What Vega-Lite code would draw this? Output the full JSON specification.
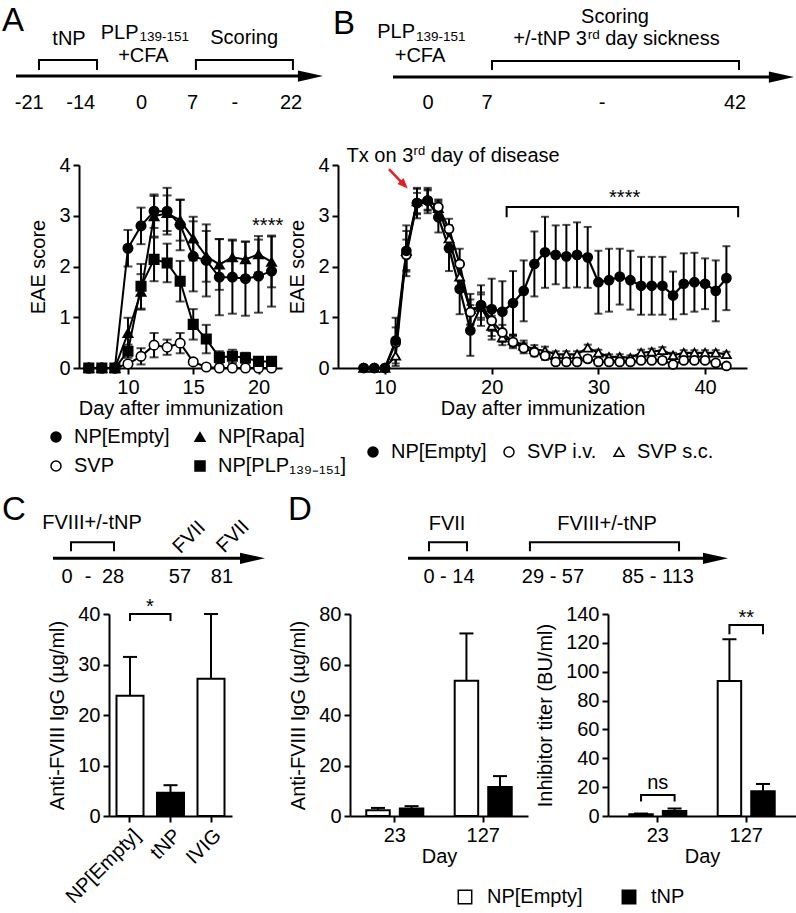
{
"$schema":"https://vega.github.io/schema/vega-lite/v6.json",
"background":"white",
"padding":{"left":2,"top":4,"right":0,"bottom":0},
"config":{
 "font":"Liberation Sans",
 "view":{"stroke":null},
 "axis":{"domainColor":"black","domainWidth":2,"tickColor":"black","tickWidth":2,"tickSize":6,"labelColor":"black","labelFontSize":20,"labelFont":"Liberation Sans","labelPadding":3,"labelOverlap":false,"titleColor":"black","titleFontSize":20,"titleFont":"Liberation Sans","titleFontWeight":"normal","grid":false},
 "axisX":{"titlePadding":1},
 "axisY":{"titlePadding":10},
 "legend":{"labelFontSize":20,"labelColor":"black","labelFont":"Liberation Sans","padding":0},
 "text":{"color":"black","font":"Liberation Sans"}
},
"datasets":{
 "a":[
  {"s":"SVP","d":7,"v":0,"e":0},{"s":"SVP","d":8,"v":0,"e":0},{"s":"SVP","d":9,"v":0,"e":0},{"s":"SVP","d":10,"v":0.08,"e":0.05},{"s":"SVP","d":11,"v":0.23,"e":0.16},{"s":"SVP","d":12,"v":0.45,"e":0.24},{"s":"SVP","d":13,"v":0.41,"e":0.15},{"s":"SVP","d":14,"v":0.49,"e":0.2},{"s":"SVP","d":15,"v":0.12,"e":0.05},{"s":"SVP","d":16,"v":0.02,"e":0},{"s":"SVP","d":17,"v":0,"e":0},{"s":"SVP","d":18,"v":0,"e":0},{"s":"SVP","d":19,"v":0,"e":0},{"s":"SVP","d":20,"v":0,"e":0},{"s":"SVP","d":21,"v":0,"e":0},
  {"s":"NP[PLP₁₃₉₋₁₅₁]","d":7,"v":0,"e":0},{"s":"NP[PLP₁₃₉₋₁₅₁]","d":8,"v":0,"e":0},{"s":"NP[PLP₁₃₉₋₁₅₁]","d":9,"v":0,"e":0},{"s":"NP[PLP₁₃₉₋₁₅₁]","d":10,"v":0.33,"e":0.13},{"s":"NP[PLP₁₃₉₋₁₅₁]","d":11,"v":1.61,"e":0.44},{"s":"NP[PLP₁₃₉₋₁₅₁]","d":12,"v":2.14,"e":0.43},{"s":"NP[PLP₁₃₉₋₁₅₁]","d":13,"v":2.07,"e":0.38},{"s":"NP[PLP₁₃₉₋₁₅₁]","d":14,"v":1.71,"e":0.4},{"s":"NP[PLP₁₃₉₋₁₅₁]","d":15,"v":0.86,"e":0.3},{"s":"NP[PLP₁₃₉₋₁₅₁]","d":16,"v":0.57,"e":0.28},{"s":"NP[PLP₁₃₉₋₁₅₁]","d":17,"v":0.21,"e":0.12},{"s":"NP[PLP₁₃₉₋₁₅₁]","d":18,"v":0.23,"e":0.13},{"s":"NP[PLP₁₃₉₋₁₅₁]","d":19,"v":0.2,"e":0.1},{"s":"NP[PLP₁₃₉₋₁₅₁]","d":20,"v":0.13,"e":0.05},{"s":"NP[PLP₁₃₉₋₁₅₁]","d":21,"v":0.13,"e":0.05},
  {"s":"NP[Rapa]","d":7,"v":0,"e":0},{"s":"NP[Rapa]","d":8,"v":0,"e":0},{"s":"NP[Rapa]","d":9,"v":0,"e":0},{"s":"NP[Rapa]","d":10,"v":0.69,"e":0.3},{"s":"NP[Rapa]","d":11,"v":1.5,"e":0.35},{"s":"NP[Rapa]","d":12,"v":2.99,"e":0.4},{"s":"NP[Rapa]","d":13,"v":3.05,"e":0.35},{"s":"NP[Rapa]","d":14,"v":2.91,"e":0.4},{"s":"NP[Rapa]","d":15,"v":2.55,"e":0.43},{"s":"NP[Rapa]","d":16,"v":2.2,"e":0.5},{"s":"NP[Rapa]","d":17,"v":2.04,"e":0.5},{"s":"NP[Rapa]","d":18,"v":2.18,"e":0.35},{"s":"NP[Rapa]","d":19,"v":2.14,"e":0.35},{"s":"NP[Rapa]","d":20,"v":2.24,"e":0.36},{"s":"NP[Rapa]","d":21,"v":2.09,"e":0.5},
  {"s":"NP[Empty]","d":7,"v":0,"e":0},{"s":"NP[Empty]","d":8,"v":0,"e":0},{"s":"NP[Empty]","d":9,"v":0,"e":0},{"s":"NP[Empty]","d":10,"v":2.36,"e":0.36},{"s":"NP[Empty]","d":11,"v":2.8,"e":0.36},{"s":"NP[Empty]","d":12,"v":3.09,"e":0.33},{"s":"NP[Empty]","d":13,"v":3.09,"e":0.46},{"s":"NP[Empty]","d":14,"v":2.82,"e":0.5},{"s":"NP[Empty]","d":15,"v":2.2,"e":0.69},{"s":"NP[Empty]","d":16,"v":2.12,"e":0.71},{"s":"NP[Empty]","d":17,"v":1.79,"e":0.75},{"s":"NP[Empty]","d":18,"v":1.79,"e":0.72},{"s":"NP[Empty]","d":19,"v":1.76,"e":0.73},{"s":"NP[Empty]","d":20,"v":1.81,"e":0.72},{"s":"NP[Empty]","d":21,"v":1.91,"e":0.7}
 ],
 "b":[
  {"s":"SVP s.c.","d":8,"v":0,"e":0},{"s":"SVP s.c.","d":9,"v":0,"e":0},{"s":"SVP s.c.","d":10,"v":0,"e":0},{"s":"SVP s.c.","d":11,"v":0.24,"e":0.2},{"s":"SVP s.c.","d":12,"v":2.3,"e":0.4},{"s":"SVP s.c.","d":13,"v":3.28,"e":0.25},{"s":"SVP s.c.","d":14,"v":3.32,"e":0.2},{"s":"SVP s.c.","d":15,"v":3.15,"e":0.15},{"s":"SVP s.c.","d":16,"v":2.55,"e":0.25},{"s":"SVP s.c.","d":17,"v":1.8,"e":0.3},{"s":"SVP s.c.","d":18,"v":1.16,"e":0.3},{"s":"SVP s.c.","d":19,"v":1.2,"e":0.25},{"s":"SVP s.c.","d":20,"v":0.83,"e":0.2},{"s":"SVP s.c.","d":21,"v":0.6,"e":0.15},{"s":"SVP s.c.","d":22,"v":0.54,"e":0.12},{"s":"SVP s.c.","d":23,"v":0.44,"e":0.1},{"s":"SVP s.c.","d":24,"v":0.37,"e":0.08},{"s":"SVP s.c.","d":25,"v":0.34,"e":0.08},{"s":"SVP s.c.","d":26,"v":0.27,"e":0.06},{"s":"SVP s.c.","d":27,"v":0.27,"e":0.06},{"s":"SVP s.c.","d":28,"v":0.27,"e":0.06},{"s":"SVP s.c.","d":29,"v":0.4,"e":0.06},{"s":"SVP s.c.","d":30,"v":0.3,"e":0.06},{"s":"SVP s.c.","d":31,"v":0.22,"e":0.05},{"s":"SVP s.c.","d":32,"v":0.22,"e":0.05},{"s":"SVP s.c.","d":33,"v":0.2,"e":0.05},{"s":"SVP s.c.","d":34,"v":0.3,"e":0.06},{"s":"SVP s.c.","d":35,"v":0.32,"e":0.06},{"s":"SVP s.c.","d":36,"v":0.35,"e":0.06},{"s":"SVP s.c.","d":37,"v":0.25,"e":0.05},{"s":"SVP s.c.","d":38,"v":0.3,"e":0.05},{"s":"SVP s.c.","d":39,"v":0.3,"e":0.05},{"s":"SVP s.c.","d":40,"v":0.3,"e":0.05},{"s":"SVP s.c.","d":41,"v":0.3,"e":0.05},{"s":"SVP s.c.","d":42,"v":0.27,"e":0.05},
  {"s":"SVP i.v.","d":8,"v":0,"e":0},{"s":"SVP i.v.","d":9,"v":0,"e":0},{"s":"SVP i.v.","d":10,"v":0,"e":0},{"s":"SVP i.v.","d":11,"v":0.5,"e":0.3},{"s":"SVP i.v.","d":12,"v":2.23,"e":0.3},{"s":"SVP i.v.","d":13,"v":3.25,"e":0.2},{"s":"SVP i.v.","d":14,"v":3.3,"e":0.2},{"s":"SVP i.v.","d":15,"v":3.17,"e":0.15},{"s":"SVP i.v.","d":16,"v":2.74,"e":0.2},{"s":"SVP i.v.","d":17,"v":2.05,"e":0.3},{"s":"SVP i.v.","d":18,"v":1.1,"e":0.25},{"s":"SVP i.v.","d":19,"v":1.24,"e":0.25},{"s":"SVP i.v.","d":20,"v":0.93,"e":0.2},{"s":"SVP i.v.","d":21,"v":0.7,"e":0.15},{"s":"SVP i.v.","d":22,"v":0.51,"e":0.12},{"s":"SVP i.v.","d":23,"v":0.39,"e":0.1},{"s":"SVP i.v.","d":24,"v":0.31,"e":0.08},{"s":"SVP i.v.","d":25,"v":0.24,"e":0.08},{"s":"SVP i.v.","d":26,"v":0.12,"e":0.06},{"s":"SVP i.v.","d":27,"v":0.12,"e":0.06},{"s":"SVP i.v.","d":28,"v":0.12,"e":0.06},{"s":"SVP i.v.","d":29,"v":0.18,"e":0.06},{"s":"SVP i.v.","d":30,"v":0.12,"e":0.05},{"s":"SVP i.v.","d":31,"v":0.12,"e":0.05},{"s":"SVP i.v.","d":32,"v":0.12,"e":0.05},{"s":"SVP i.v.","d":33,"v":0.12,"e":0.05},{"s":"SVP i.v.","d":34,"v":0.15,"e":0.05},{"s":"SVP i.v.","d":35,"v":0.15,"e":0.05},{"s":"SVP i.v.","d":36,"v":0.15,"e":0.05},{"s":"SVP i.v.","d":37,"v":0.07,"e":0.04},{"s":"SVP i.v.","d":38,"v":0.15,"e":0.05},{"s":"SVP i.v.","d":39,"v":0.15,"e":0.05},{"s":"SVP i.v.","d":40,"v":0.15,"e":0.05},{"s":"SVP i.v.","d":41,"v":0.1,"e":0.05},{"s":"SVP i.v.","d":42,"v":0.04,"e":0.03},
  {"s":"NP[Empty]","d":8,"v":0,"e":0},{"s":"NP[Empty]","d":9,"v":0,"e":0},{"s":"NP[Empty]","d":10,"v":0,"e":0},{"s":"NP[Empty]","d":11,"v":0.54,"e":0.45},{"s":"NP[Empty]","d":12,"v":2.31,"e":0.5},{"s":"NP[Empty]","d":13,"v":3.25,"e":0.3},{"s":"NP[Empty]","d":14,"v":3.3,"e":0.25},{"s":"NP[Empty]","d":15,"v":2.97,"e":0.3},{"s":"NP[Empty]","d":16,"v":2.36,"e":0.45},{"s":"NP[Empty]","d":17,"v":1.56,"e":0.5},{"s":"NP[Empty]","d":18,"v":0.74,"e":0.5},{"s":"NP[Empty]","d":19,"v":1.23,"e":0.4},{"s":"NP[Empty]","d":20,"v":1.16,"e":0.6},{"s":"NP[Empty]","d":21,"v":1.11,"e":0.6},{"s":"NP[Empty]","d":22,"v":1.28,"e":0.63},{"s":"NP[Empty]","d":23,"v":1.52,"e":0.6},{"s":"NP[Empty]","d":24,"v":2.05,"e":0.64},{"s":"NP[Empty]","d":25,"v":2.28,"e":0.7},{"s":"NP[Empty]","d":26,"v":2.23,"e":0.58},{"s":"NP[Empty]","d":27,"v":2.2,"e":0.62},{"s":"NP[Empty]","d":28,"v":2.23,"e":0.64},{"s":"NP[Empty]","d":29,"v":2.18,"e":0.6},{"s":"NP[Empty]","d":30,"v":1.69,"e":0.62},{"s":"NP[Empty]","d":31,"v":1.73,"e":0.62},{"s":"NP[Empty]","d":32,"v":1.8,"e":0.55},{"s":"NP[Empty]","d":33,"v":1.73,"e":0.58},{"s":"NP[Empty]","d":34,"v":1.62,"e":0.57},{"s":"NP[Empty]","d":35,"v":1.62,"e":0.57},{"s":"NP[Empty]","d":36,"v":1.62,"e":0.57},{"s":"NP[Empty]","d":37,"v":1.43,"e":0.47},{"s":"NP[Empty]","d":38,"v":1.66,"e":0.6},{"s":"NP[Empty]","d":39,"v":1.69,"e":0.58},{"s":"NP[Empty]","d":40,"v":1.66,"e":0.5},{"s":"NP[Empty]","d":41,"v":1.52,"e":0.6},{"s":"NP[Empty]","d":42,"v":1.77,"e":0.63}
 ],
 "c":[{"c":"NP[Empty]","v":23.8,"hi":31.5},{"c":"tNP","v":4.6,"hi":6.1},{"c":"IVIG","v":27.2,"hi":40}],
 "d1":[{"day":"23","g":"NP[Empty]","v":2.3,"hi":3.2},{"day":"23","g":"tNP","v":3.0,"hi":3.9},{"day":"127","g":"NP[Empty]","v":53.6,"hi":72.3},{"day":"127","g":"tNP","v":11.5,"hi":15.8}],
 "d2":[{"day":"23","g":"NP[Empty]","v":1.2,"hi":1.7},{"day":"23","g":"tNP","v":3.5,"hi":5.2},{"day":"127","g":"NP[Empty]","v":93.5,"hi":122.5},{"day":"127","g":"tNP","v":17.2,"hi":22.2}]
},
"columns":1,
"align":"none",
"bounds":"full",
"spacing":18,
"resolve":{"scale":{"fill":"independent","shape":"independent","stroke":"independent"},"legend":{"fill":"independent","shape":"independent","stroke":"independent"}},
"concat":[
 {"hconcat":[
  {"width":203,"height":203,
   "resolve":{"scale":{"x":"independent","y":"independent"}},
   "layer":[
    {"data":{"name":"a"},
     "layer":[
      {"mark":{"type":"line","color":"black","strokeWidth":2},
       "encoding":{"x":{"field":"d","type":"quantitative","title":"Day after immunization","scale":{"domain":[6.25,21.8],"nice":false,"zero":false},"axis":{"values":[10,15,20]}},
                   "y":{"field":"v","type":"quantitative","title":"EAE score","scale":{"domain":[0,4],"nice":false,"zero":false},"axis":{"values":[0,1,2,3,4],"format":"d"}},
                   "detail":{"field":"s","type":"nominal"}}},
      {"mark":{"type":"errorbar","ticks":true,"size":9,"thickness":2,"color":"black"},
       "encoding":{"x":{"field":"d","type":"quantitative","title":"Day after immunization","scale":{"domain":[6.25,21.8],"nice":false,"zero":false}},
                   "y":{"field":"v","type":"quantitative","title":"EAE score","scale":{"domain":[0,4],"nice":false,"zero":false}},
                   "yError":{"field":"e"}}},
      {"mark":{"type":"point","filled":true,"size":90,"strokeWidth":1.6,"opacity":1},
       "encoding":{"x":{"field":"d","type":"quantitative","title":"Day after immunization","scale":{"domain":[6.25,21.8],"nice":false,"zero":false}},
                   "y":{"field":"v","type":"quantitative","title":"EAE score","scale":{"domain":[0,4],"nice":false,"zero":false}},
                   "shape":{"field":"s","type":"nominal","scale":{"domain":["NP[Empty]","SVP","NP[Rapa]","NP[PLP₁₃₉₋₁₅₁]"],"range":["circle","circle","triangle-up","square"]},
                            "legend":{"orient":"none","legendX":-33,"legendY":262,"title":null,"columns":2,"symbolSize":100,"symbolStrokeWidth":1.5,"labelFontSize":20,"labelOffset":8,"columnPadding":20,"rowPadding":9}},
                   "fill":{"field":"s","type":"nominal","scale":{"domain":["NP[Empty]","SVP","NP[Rapa]","NP[PLP₁₃₉₋₁₅₁]"],"range":["black","white","black","black"]},
                            "legend":{"orient":"none","legendX":-33,"legendY":262,"title":null,"columns":2,"symbolSize":100,"symbolStrokeWidth":1.5,"labelFontSize":20,"labelOffset":8,"columnPadding":20,"rowPadding":9}},
                   "stroke":{"field":"s","type":"nominal","scale":{"domain":["NP[Empty]","SVP","NP[Rapa]","NP[PLP₁₃₉₋₁₅₁]"],"range":["black","black","black","black"]},
                            "legend":{"orient":"none","legendX":-33,"legendY":262,"title":null,"columns":2,"symbolSize":100,"symbolStrokeWidth":1.5,"labelFontSize":20,"labelOffset":8,"columnPadding":20,"rowPadding":9}}}},
      {"data":{"values":[{"d":20.7,"v":2.79,"txt":"****"}]},
       "mark":{"type":"text","fontSize":20,"baseline":"middle","align":"center","color":"black"},
       "encoding":{"x":{"field":"d","type":"quantitative","title":"Day after immunization","scale":{"domain":[6.25,21.8],"nice":false,"zero":false}},
                   "y":{"field":"v","type":"quantitative","title":"EAE score","scale":{"domain":[0,4],"nice":false,"zero":false}},
                   "text":{"field":"txt"}}}
     ]},
    {"layer":[
      {"data":{"values":[{"t":0,"t2":95,"l":0}]},"mark":{"type":"rule","strokeWidth":3,"color":"black"},
       "encoding":{"x":{"field":"t","type":"quantitative","scale":{"domain":[20.52,86.64],"nice":false,"zero":false},"axis":null},"x2":{"field":"t2"},
                   "y":{"field":"l","type":"quantitative","scale":{"domain":[-10.815,-3.296],"nice":false,"zero":false},"axis":null}}},
      {"data":{"values":[{"t":95.9,"l":0}]},"mark":{"type":"point","shape":"M-1,-0.45L1,0L-1,0.45Z","size":625,"filled":true,"color":"black","opacity":1,"strokeWidth":0},
       "encoding":{"x":{"field":"t","type":"quantitative","scale":{"domain":[20.52,86.64],"nice":false,"zero":false},"axis":null},
                   "y":{"field":"l","type":"quantitative","scale":{"domain":[-10.815,-3.296],"nice":false,"zero":false},"axis":null}}},
      {"data":{"values":[{"b":1,"o":1,"t":7.49,"l":0.22},{"b":1,"o":2,"t":7.49,"l":0.59},{"b":1,"o":3,"t":26.38,"l":0.59},{"b":1,"o":4,"t":26.38,"l":0.22},{"b":2,"o":1,"t":58.6,"l":0.22},{"b":2,"o":2,"t":58.6,"l":0.59},{"b":2,"o":3,"t":90.2,"l":0.59},{"b":2,"o":4,"t":90.2,"l":0.22}]},
       "mark":{"type":"line","strokeWidth":2,"color":"black"},
       "encoding":{"x":{"field":"t","type":"quantitative","scale":{"domain":[20.52,86.64],"nice":false,"zero":false},"axis":null},
                   "y":{"field":"l","type":"quantitative","scale":{"domain":[-10.815,-3.296],"nice":false,"zero":false},"axis":null},
                   "detail":{"field":"b","type":"nominal"},"order":{"field":"o","type":"quantitative"}}},
      {"data":{"values":[{"txt":"tNP","t":17.26,"l":1.37},{"txt":"+CFA","t":41.5,"l":0.74},{"txt":"Scoring","t":74.3,"l":1.41},{"txt":"-21","t":4.3,"l":-1.0},{"txt":"-14","t":21.1,"l":-1.0},{"txt":"0","t":40.9,"l":-1.0},{"txt":"7","t":57.5,"l":-1.0},{"txt":"-","t":71.3,"l":-1.0},{"txt":"22","t":89.6,"l":-1.0}]},
       "mark":{"type":"text","fontSize":20,"align":"center","baseline":"middle","color":"black"},
       "encoding":{"x":{"field":"t","type":"quantitative","scale":{"domain":[20.52,86.64],"nice":false,"zero":false},"axis":null},
                   "y":{"field":"l","type":"quantitative","scale":{"domain":[-10.815,-3.296],"nice":false,"zero":false},"axis":null},
                   "text":{"field":"txt"}}},
      {"data":{"values":[{"txt":"PLP","t":39.9,"l":1.61}]},
       "mark":{"type":"text","fontSize":20,"align":"right","baseline":"middle","color":"black"},
       "encoding":{"x":{"field":"t","type":"quantitative","scale":{"domain":[20.52,86.64],"nice":false,"zero":false},"axis":null},
                   "y":{"field":"l","type":"quantitative","scale":{"domain":[-10.815,-3.296],"nice":false,"zero":false},"axis":null},
                   "text":{"field":"txt"}}},
      {"data":{"values":[{"txt":"139-151","t":40.2,"l":1.43}]},
       "mark":{"type":"text","fontSize":13.5,"align":"left","baseline":"middle","color":"black"},
       "encoding":{"x":{"field":"t","type":"quantitative","scale":{"domain":[20.52,86.64],"nice":false,"zero":false},"axis":null},
                   "y":{"field":"l","type":"quantitative","scale":{"domain":[-10.815,-3.296],"nice":false,"zero":false},"axis":null},
                   "text":{"field":"txt"}}},
      {"data":{"values":[{"txt":"A","t":-4.56,"l":2.04}]},
       "mark":{"type":"text","fontSize":33,"align":"left","baseline":"middle","color":"black"},
       "encoding":{"x":{"field":"t","type":"quantitative","scale":{"domain":[20.52,86.64],"nice":false,"zero":false},"axis":null},
                   "y":{"field":"l","type":"quantitative","scale":{"domain":[-10.815,-3.296],"nice":false,"zero":false},"axis":null},
                   "text":{"field":"txt"}}}
    ]}
   ]},
  {"width":409,"height":203,
   "resolve":{"scale":{"x":"independent","y":"independent"}},
   "layer":[
    {"data":{"name":"b"},
     "layer":[
      {"mark":{"type":"line","color":"black","strokeWidth":2.2},
       "encoding":{"x":{"field":"d","type":"quantitative","title":"Day after immunization","scale":{"domain":[5.595,43.93],"nice":false,"zero":false},"axis":{"values":[10,20,30,40]}},
                   "y":{"field":"v","type":"quantitative","title":"EAE score","scale":{"domain":[0,4],"nice":false,"zero":false},"axis":{"values":[0,1,2,3,4],"format":"d"}},
                   "detail":{"field":"s","type":"nominal"}}},
      {"mark":{"type":"errorbar","ticks":true,"size":8,"thickness":2,"color":"black"},
       "encoding":{"x":{"field":"d","type":"quantitative","title":"Day after immunization","scale":{"domain":[5.595,43.93],"nice":false,"zero":false}},
                   "y":{"field":"v","type":"quantitative","title":"EAE score","scale":{"domain":[0,4],"nice":false,"zero":false}},
                   "yError":{"field":"e"}}},
      {"mark":{"type":"point","filled":true,"size":80,"strokeWidth":1.8,"opacity":1},
       "encoding":{"x":{"field":"d","type":"quantitative","title":"Day after immunization","scale":{"domain":[5.595,43.93],"nice":false,"zero":false}},
                   "y":{"field":"v","type":"quantitative","title":"EAE score","scale":{"domain":[0,4],"nice":false,"zero":false}},
                   "shape":{"field":"s","type":"nominal","scale":{"domain":["NP[Empty]","SVP i.v.","SVP s.c."],"range":["circle","circle","triangle-up"]},
                            "legend":{"orient":"none","legendX":25,"legendY":277,"title":null,"direction":"horizontal","symbolSize":100,"symbolStrokeWidth":1.5,"labelFontSize":20,"labelOffset":8,"columnPadding":12}},
                   "fill":{"field":"s","type":"nominal","scale":{"domain":["NP[Empty]","SVP i.v.","SVP s.c."],"range":["black","white","white"]},
                            "legend":{"orient":"none","legendX":25,"legendY":277,"title":null,"direction":"horizontal","symbolSize":100,"symbolStrokeWidth":1.5,"labelFontSize":20,"labelOffset":8,"columnPadding":12}},
                   "stroke":{"field":"s","type":"nominal","scale":{"domain":["NP[Empty]","SVP i.v.","SVP s.c."],"range":["black","black","black"]},
                            "legend":{"orient":"none","legendX":25,"legendY":277,"title":null,"direction":"horizontal","symbolSize":100,"symbolStrokeWidth":1.5,"labelFontSize":20,"labelOffset":8,"columnPadding":12}}}},
      {"data":{"values":[{"b":1,"o":1,"d":21.4,"v":2.97},{"b":1,"o":2,"d":21.4,"v":3.17},{"b":1,"o":3,"d":43.1,"v":3.17},{"b":1,"o":4,"d":43.1,"v":2.97}]},
       "mark":{"type":"line","color":"black","strokeWidth":2},
       "encoding":{"x":{"field":"d","type":"quantitative","title":"Day after immunization","scale":{"domain":[5.595,43.93],"nice":false,"zero":false}},
                   "y":{"field":"v","type":"quantitative","title":"EAE score","scale":{"domain":[0,4],"nice":false,"zero":false}},
                   "order":{"field":"o","type":"quantitative"}}},
      {"data":{"values":[{"d":32.46,"v":3.35,"txt":"****"}]},
       "mark":{"type":"text","fontSize":20,"baseline":"middle","align":"center","color":"black"},
       "encoding":{"x":{"field":"d","type":"quantitative","title":"Day after immunization","scale":{"domain":[5.595,43.93],"nice":false,"zero":false}},
                   "y":{"field":"v","type":"quantitative","title":"EAE score","scale":{"domain":[0,4],"nice":false,"zero":false}},
                   "text":{"field":"txt"}}},
      {"data":{"values":[{"d":6.4,"v":4.18,"txt":"Tx on 3"},{"d":14.29,"v":4.18,"txt":"day of disease"}]},
       "mark":{"type":"text","fontSize":20,"baseline":"middle","align":"left","color":"black"},
       "encoding":{"x":{"field":"d","type":"quantitative","title":"Day after immunization","scale":{"domain":[5.595,43.93],"nice":false,"zero":false}},
                   "y":{"field":"v","type":"quantitative","title":"EAE score","scale":{"domain":[0,4],"nice":false,"zero":false}},
                   "text":{"field":"txt"}}},
      {"data":{"values":[{"d":12.68,"v":4.28,"txt":"rd"}]},
       "mark":{"type":"text","fontSize":13,"baseline":"middle","align":"left","color":"black"},
       "encoding":{"x":{"field":"d","type":"quantitative","title":"Day after immunization","scale":{"domain":[5.595,43.93],"nice":false,"zero":false}},
                   "y":{"field":"v","type":"quantitative","title":"EAE score","scale":{"domain":[0,4],"nice":false,"zero":false}},
                   "text":{"field":"txt"}}},
      {"data":{"values":[{"d":10.37,"v":3.92,"d2":11.79,"v2":3.61}]},
       "mark":{"type":"rule","color":"#e41f26","strokeWidth":2.5},
       "encoding":{"x":{"field":"d","type":"quantitative","title":"Day after immunization","scale":{"domain":[5.595,43.93],"nice":false,"zero":false}},
                   "y":{"field":"v","type":"quantitative","title":"EAE score","scale":{"domain":[0,4],"nice":false,"zero":false}},
                   "x2":{"field":"d2"},"y2":{"field":"v2"}}},
      {"data":{"values":[{"d":11.79,"v":3.61}]},
       "mark":{"type":"point","shape":"M-1,-0.8L1,0L-1,0.8Z","size":110,"angle":46.5,"filled":true,"color":"#e41f26","opacity":1,"strokeWidth":0},
       "encoding":{"x":{"field":"d","type":"quantitative","title":"Day after immunization","scale":{"domain":[5.595,43.93],"nice":false,"zero":false}},
                   "y":{"field":"v","type":"quantitative","title":"EAE score","scale":{"domain":[0,4],"nice":false,"zero":false}}}}
     ]},
    {"layer":[
      {"data":{"values":[{"t":0,"t2":95,"l":0}]},"mark":{"type":"rule","strokeWidth":3,"color":"black"},
       "encoding":{"x":{"field":"t","type":"quantitative","scale":{"domain":[-13.75,88.5],"nice":false,"zero":false},"axis":null},"x2":{"field":"t2"},
                   "y":{"field":"l","type":"quantitative","scale":{"domain":[-10.778,-3.259],"nice":false,"zero":false},"axis":null}}},
      {"data":{"values":[{"t":97.1,"l":0}]},"mark":{"type":"point","shape":"M-1,-0.45L1,0L-1,0.45Z","size":625,"filled":true,"color":"black","opacity":1,"strokeWidth":0},
       "encoding":{"x":{"field":"t","type":"quantitative","scale":{"domain":[-13.75,88.5],"nice":false,"zero":false},"axis":null},
                   "y":{"field":"l","type":"quantitative","scale":{"domain":[-10.778,-3.259],"nice":false,"zero":false},"axis":null}}},
      {"data":{"values":[{"b":1,"o":1,"t":24.75,"l":0.26},{"b":1,"o":2,"t":24.75,"l":0.59},{"b":1,"o":3,"t":86.5,"l":0.59},{"b":1,"o":4,"t":86.5,"l":0.26}]},
       "mark":{"type":"line","strokeWidth":2,"color":"black"},
       "encoding":{"x":{"field":"t","type":"quantitative","scale":{"domain":[-13.75,88.5],"nice":false,"zero":false},"axis":null},
                   "y":{"field":"l","type":"quantitative","scale":{"domain":[-10.778,-3.259],"nice":false,"zero":false},"axis":null},
                   "detail":{"field":"b","type":"nominal"},"order":{"field":"o","type":"quantitative"}}},
      {"data":{"values":[{"txt":"Scoring","t":55.5,"l":2.24},{"txt":"+CFA","t":6.75,"l":0.76},{"txt":"0","t":8.75,"l":-0.96},{"txt":"7","t":23.5,"l":-0.96},{"txt":"-","t":52.25,"l":-0.96},{"txt":"42","t":85.5,"l":-0.96}]},
       "mark":{"type":"text","fontSize":20,"align":"center","baseline":"middle","color":"black"},
       "encoding":{"x":{"field":"t","type":"quantitative","scale":{"domain":[-13.75,88.5],"nice":false,"zero":false},"axis":null},
                   "y":{"field":"l","type":"quantitative","scale":{"domain":[-10.778,-3.259],"nice":false,"zero":false},"axis":null},
                   "text":{"field":"txt"}}},
      {"data":{"values":[{"txt":"PLP","t":5.5,"l":1.67}]},
       "mark":{"type":"text","fontSize":20,"align":"right","baseline":"middle","color":"black"},
       "encoding":{"x":{"field":"t","type":"quantitative","scale":{"domain":[-13.75,88.5],"nice":false,"zero":false},"axis":null},
                   "y":{"field":"l","type":"quantitative","scale":{"domain":[-10.778,-3.259],"nice":false,"zero":false},"axis":null},
                   "text":{"field":"txt"}}},
      {"data":{"values":[{"txt":"+/-tNP 3","t":30.08,"l":1.41},{"txt":"day sickness","t":53.05,"l":1.41}]},
       "mark":{"type":"text","fontSize":20,"align":"left","baseline":"middle","color":"black"},
       "encoding":{"x":{"field":"t","type":"quantitative","scale":{"domain":[-13.75,88.5],"nice":false,"zero":false},"axis":null},
                   "y":{"field":"l","type":"quantitative","scale":{"domain":[-10.778,-3.259],"nice":false,"zero":false},"axis":null},
                   "text":{"field":"txt"}}},
      {"data":{"values":[{"txt":"139-151","t":5.75,"l":1.48},{"txt":"rd","t":48.7,"l":1.57}]},
       "mark":{"type":"text","fontSize":13.5,"align":"left","baseline":"middle","color":"black"},
       "encoding":{"x":{"field":"t","type":"quantitative","scale":{"domain":[-13.75,88.5],"nice":false,"zero":false},"axis":null},
                   "y":{"field":"l","type":"quantitative","scale":{"domain":[-10.778,-3.259],"nice":false,"zero":false},"axis":null},
                   "text":{"field":"txt"}}},
      {"data":{"values":[{"txt":"B","t":-15.0,"l":1.98}]},
       "mark":{"type":"text","fontSize":33,"align":"left","baseline":"middle","color":"black"},
       "encoding":{"x":{"field":"t","type":"quantitative","scale":{"domain":[-13.75,88.5],"nice":false,"zero":false},"axis":null},
                   "y":{"field":"l","type":"quantitative","scale":{"domain":[-10.778,-3.259],"nice":false,"zero":false},"axis":null},
                   "text":{"field":"txt"}}}
    ]}
   ]}
 ],
 "spacing":56,
 "bounds":"flush",
 "resolve":{"scale":{"fill":"independent","shape":"independent","stroke":"independent"},"legend":{"fill":"independent","shape":"independent","stroke":"independent"}}},
 {"hconcat":[
  {"width":191,"height":202,
   "resolve":{"scale":{"x":"independent","y":"independent"}},
   "layer":[
    {"data":{"name":"c"},
     "layer":[
      {"mark":{"type":"bar","stroke":"black","strokeWidth":2},
       "encoding":{"x":{"field":"c","type":"nominal","title":null,"scale":{"domain":["NP[Empty]","tNP","IVIG"],"paddingInner":0.333,"paddingOuter":0.185,"rangeMin":30,"rangeMax":153},"axis":{"labelAngle":-45}},
                   "y":{"field":"v","type":"quantitative","title":"Anti-FVIII IgG (µg/ml)","scale":{"domain":[0,40],"nice":false},"axis":{"values":[0,10,20,30,40],"offset":-30}},
                   "fill":{"field":"c","type":"nominal","scale":{"domain":["NP[Empty]","tNP","IVIG"],"range":["white","black","white"]},"legend":null}}},
      {"mark":{"type":"rule","strokeWidth":2,"color":"black"},
       "encoding":{"x":{"field":"c","type":"nominal","title":null,"scale":{"domain":["NP[Empty]","tNP","IVIG"],"paddingInner":0.333,"paddingOuter":0.185,"rangeMin":30,"rangeMax":153}},
                   "y":{"field":"v","type":"quantitative","title":"Anti-FVIII IgG (µg/ml)","scale":{"domain":[0,40],"nice":false}},
                   "y2":{"field":"hi"}}},
      {"mark":{"type":"tick","size":14,"thickness":2,"color":"black","orient":"horizontal","opacity":1},
       "encoding":{"x":{"field":"c","type":"nominal","title":null,"scale":{"domain":["NP[Empty]","tNP","IVIG"],"paddingInner":0.333,"paddingOuter":0.185,"rangeMin":30,"rangeMax":153}},
                   "y":{"field":"hi","type":"quantitative","title":"Anti-FVIII IgG (µg/ml)","scale":{"domain":[0,40],"nice":false}}}},
      {"data":{"values":[{"c":"NP[Empty]","v":38.6,"o":1},{"c":"NP[Empty]","v":40,"o":2},{"c":"tNP","v":40,"o":3},{"c":"tNP","v":38.6,"o":4}]},
       "mark":{"type":"line","strokeWidth":2,"color":"black"},
       "encoding":{"x":{"field":"c","type":"nominal","title":null,"scale":{"domain":["NP[Empty]","tNP","IVIG"],"paddingInner":0.333,"paddingOuter":0.185,"rangeMin":30,"rangeMax":153}},
                   "y":{"field":"v","type":"quantitative","title":"Anti-FVIII IgG (µg/ml)","scale":{"domain":[0,40],"nice":false}},
                   "order":{"field":"o","type":"quantitative"}}},
      {"data":{"values":[{"c":"NP[Empty]","v":41.3,"txt":"*"}]},
       "mark":{"type":"text","fontSize":20,"baseline":"middle","align":"center","color":"black"},
       "encoding":{"x":{"field":"c","type":"nominal","title":null,"bandPosition":1.24,"scale":{"domain":["NP[Empty]","tNP","IVIG"],"paddingInner":0.333,"paddingOuter":0.185,"rangeMin":30,"rangeMax":153}},
                   "y":{"field":"v","type":"quantitative","title":"Anti-FVIII IgG (µg/ml)","scale":{"domain":[0,40],"nice":false}},
                   "text":{"field":"txt"}}}
     ]},
    {"layer":[
      {"data":{"values":[{"t":0,"t2":92,"l":0}]},"mark":{"type":"rule","strokeWidth":3,"color":"black"},
       "encoding":{"x":{"field":"t","type":"quantitative","scale":{"domain":[12.26,102.36],"nice":false,"zero":false},"axis":null},"x2":{"field":"t2"},
                   "y":{"field":"l","type":"quantitative","scale":{"domain":[-9.544,-2.063],"nice":false,"zero":false},"axis":null}}},
      {"data":{"values":[{"t":94.1,"l":0}]},"mark":{"type":"point","shape":"M-1,-0.45L1,0L-1,0.45Z","size":625,"filled":true,"color":"black","opacity":1,"strokeWidth":0},
       "encoding":{"x":{"field":"t","type":"quantitative","scale":{"domain":[12.26,102.36],"nice":false,"zero":false},"axis":null},
                   "y":{"field":"l","type":"quantitative","scale":{"domain":[-9.544,-2.063],"nice":false,"zero":false},"axis":null}}},
      {"data":{"values":[{"b":1,"o":1,"t":8.49,"l":0.26},{"b":1,"o":2,"t":8.49,"l":0.59},{"b":1,"o":3,"t":28.77,"l":0.59},{"b":1,"o":4,"t":28.77,"l":0.26}]},
       "mark":{"type":"line","strokeWidth":2,"color":"black"},
       "encoding":{"x":{"field":"t","type":"quantitative","scale":{"domain":[12.26,102.36],"nice":false,"zero":false},"axis":null},
                   "y":{"field":"l","type":"quantitative","scale":{"domain":[-9.544,-2.063],"nice":false,"zero":false},"axis":null},
                   "detail":{"field":"b","type":"nominal"},"order":{"field":"o","type":"quantitative"}}},
      {"data":{"values":[{"txt":"FVIII+/-tNP","t":18.4,"l":1.3},{"txt":"0","t":6.6,"l":-0.7},{"txt":"-","t":16.5,"l":-0.7},{"txt":"28","t":28.3,"l":-0.7},{"txt":"57","t":59.9,"l":-0.7},{"txt":"81","t":79.7,"l":-0.7}]},
       "mark":{"type":"text","fontSize":20,"align":"center","baseline":"middle","color":"black"},
       "encoding":{"x":{"field":"t","type":"quantitative","scale":{"domain":[12.26,102.36],"nice":false,"zero":false},"axis":null},
                   "y":{"field":"l","type":"quantitative","scale":{"domain":[-9.544,-2.063],"nice":false,"zero":false},"axis":null},
                   "text":{"field":"txt"}}},
      {"data":{"values":[{"txt":"FVII","t":64.2,"l":0.78},{"txt":"FVII","t":84.9,"l":0.81}]},
       "mark":{"type":"text","fontSize":20,"align":"center","baseline":"middle","angle":315,"color":"black"},
       "encoding":{"x":{"field":"t","type":"quantitative","scale":{"domain":[12.26,102.36],"nice":false,"zero":false},"axis":null},
                   "y":{"field":"l","type":"quantitative","scale":{"domain":[-9.544,-2.063],"nice":false,"zero":false},"axis":null},
                   "text":{"field":"txt"}}},
      {"data":{"values":[{"txt":"C","t":-24.06,"l":1.78}]},
       "mark":{"type":"text","fontSize":33,"align":"left","baseline":"middle","color":"black"},
       "encoding":{"x":{"field":"t","type":"quantitative","scale":{"domain":[12.26,102.36],"nice":false,"zero":false},"axis":null},
                   "y":{"field":"l","type":"quantitative","scale":{"domain":[-9.544,-2.063],"nice":false,"zero":false},"axis":null},
                   "text":{"field":"txt"}}}
    ]}
   ]},
  {"width":178,"height":202,
   "resolve":{"scale":{"x":"independent","y":"independent"}},
   "layer":[
    {"data":{"name":"d1"},
     "layer":[
      {"mark":{"type":"bar","stroke":"black","strokeWidth":2},
       "encoding":{"x":{"field":"day","type":"nominal","title":"Day","scale":{"domain":["23","127"],"paddingInner":0.355,"paddingOuter":0.184},"axis":{"labelAngle":0}},
                   "xOffset":{"field":"g","type":"nominal","scale":{"domain":["NP[Empty]","tNP"],"paddingInner":0.3,"paddingOuter":0}},
                   "y":{"field":"v","type":"quantitative","title":"Anti-FVIII IgG (µg/ml)","scale":{"domain":[0,80],"nice":false},"axis":{"values":[0,20,40,60,80]}},
                   "fill":{"field":"g","type":"nominal","scale":{"domain":["NP[Empty]","tNP"],"range":["white","black"]},
                           "legend":{"orient":"none","legendX":105,"legendY":273,"title":null,"direction":"horizontal","symbolType":"square","symbolSize":180,"symbolStrokeColor":"black","symbolStrokeWidth":1.5,"labelFontSize":20,"labelOffset":12,"columnPadding":36}}}},
      {"mark":{"type":"rule","strokeWidth":2,"color":"black"},
       "encoding":{"x":{"field":"day","type":"nominal","title":"Day","scale":{"domain":["23","127"],"paddingInner":0.355,"paddingOuter":0.184}},
                   "xOffset":{"field":"g","type":"nominal","scale":{"domain":["NP[Empty]","tNP"],"paddingInner":0.3,"paddingOuter":0}},
                   "y":{"field":"v","type":"quantitative","title":"Anti-FVIII IgG (µg/ml)","scale":{"domain":[0,80],"nice":false}},
                   "y2":{"field":"hi"}}},
      {"mark":{"type":"tick","size":14,"thickness":2,"color":"black","orient":"horizontal","opacity":1},
       "encoding":{"x":{"field":"day","type":"nominal","title":"Day","scale":{"domain":["23","127"],"paddingInner":0.355,"paddingOuter":0.184}},
                   "xOffset":{"field":"g","type":"nominal","scale":{"domain":["NP[Empty]","tNP"],"paddingInner":0.3,"paddingOuter":0}},
                   "y":{"field":"hi","type":"quantitative","title":"Anti-FVIII IgG (µg/ml)","scale":{"domain":[0,80],"nice":false}}}}
     ]},
    {"layer":[
      {"data":{"values":[{"t":0,"t2":94,"l":0}]},"mark":{"type":"rule","strokeWidth":3,"color":"black"},
       "encoding":{"x":{"field":"t","type":"quantitative","scale":{"domain":[-18.125,37.5],"nice":false,"zero":false},"axis":null},"x2":{"field":"t2"},
                   "y":{"field":"l","type":"quantitative","scale":{"domain":[-9.544,-2.063],"nice":false,"zero":false},"axis":null}}},
      {"data":{"values":[{"t":96.1,"l":0}]},"mark":{"type":"point","shape":"M-1,-0.45L1,0L-1,0.45Z","size":625,"filled":true,"color":"black","opacity":1,"strokeWidth":0},
       "encoding":{"x":{"field":"t","type":"quantitative","scale":{"domain":[-18.125,37.5],"nice":false,"zero":false},"axis":null},
                   "y":{"field":"l","type":"quantitative","scale":{"domain":[-9.544,-2.063],"nice":false,"zero":false},"axis":null}}},
      {"data":{"values":[{"b":1,"o":1,"t":6.56,"l":0.26},{"b":1,"o":2,"t":6.56,"l":0.59},{"b":1,"o":3,"t":18.44,"l":0.59},{"b":1,"o":4,"t":18.44,"l":0.26},{"b":2,"o":1,"t":38.1,"l":0.26},{"b":2,"o":2,"t":38.1,"l":0.59},{"b":2,"o":3,"t":84.7,"l":0.59},{"b":2,"o":4,"t":84.7,"l":0.26}]},
       "mark":{"type":"line","strokeWidth":2,"color":"black"},
       "encoding":{"x":{"field":"t","type":"quantitative","scale":{"domain":[-18.125,37.5],"nice":false,"zero":false},"axis":null},
                   "y":{"field":"l","type":"quantitative","scale":{"domain":[-9.544,-2.063],"nice":false,"zero":false},"axis":null},
                   "detail":{"field":"b","type":"nominal"},"order":{"field":"o","type":"quantitative"}}},
      {"data":{"values":[{"txt":"FVII","t":12.2,"l":1.26},{"txt":"FVIII+/-tNP","t":62.2,"l":1.26},{"txt":"0 - 14","t":12.8,"l":-0.7},{"txt":"29 - 57","t":45.3,"l":-0.7},{"txt":"85 - 113","t":78.1,"l":-0.7}]},
       "mark":{"type":"text","fontSize":20,"align":"center","baseline":"middle","color":"black"},
       "encoding":{"x":{"field":"t","type":"quantitative","scale":{"domain":[-18.125,37.5],"nice":false,"zero":false},"axis":null},
                   "y":{"field":"l","type":"quantitative","scale":{"domain":[-9.544,-2.063],"nice":false,"zero":false},"axis":null},
                   "text":{"field":"txt"}}},
      {"data":{"values":[{"txt":"D","t":-37.5,"l":1.78}]},
       "mark":{"type":"text","fontSize":33,"align":"left","baseline":"middle","color":"black"},
       "encoding":{"x":{"field":"t","type":"quantitative","scale":{"domain":[-18.125,37.5],"nice":false,"zero":false},"axis":null},
                   "y":{"field":"l","type":"quantitative","scale":{"domain":[-9.544,-2.063],"nice":false,"zero":false},"axis":null},
                   "text":{"field":"txt"}}}
    ]}
   ]},
  {"width":188,"height":202,
   "data":{"name":"d2"},
   "layer":[
    {"mark":{"type":"bar","stroke":"black","strokeWidth":2},
     "encoding":{"x":{"field":"day","type":"nominal","title":"Day","scale":{"domain":["23","127"],"paddingInner":0.355,"paddingOuter":0.241},"axis":{"labelAngle":0}},
                 "xOffset":{"field":"g","type":"nominal","scale":{"domain":["NP[Empty]","tNP"],"paddingInner":0.3,"paddingOuter":0}},
                 "y":{"field":"v","type":"quantitative","title":"Inhibitor titer (BU/ml)","scale":{"domain":[0,140],"nice":false},"axis":{"values":[0,20,40,60,80,100,120,140],"tickCount":8,"labelOverlap":false}},
                 "fill":{"field":"g","type":"nominal","scale":{"domain":["NP[Empty]","tNP"],"range":["white","black"]},"legend":null}}},
    {"mark":{"type":"rule","strokeWidth":2,"color":"black"},
     "encoding":{"x":{"field":"day","type":"nominal","title":"Day","scale":{"domain":["23","127"],"paddingInner":0.355,"paddingOuter":0.241},"axis":{"labelAngle":0}},
                 "xOffset":{"field":"g","type":"nominal","scale":{"domain":["NP[Empty]","tNP"],"paddingInner":0.3,"paddingOuter":0}},
                 "y":{"field":"v","type":"quantitative","title":"Inhibitor titer (BU/ml)","scale":{"domain":[0,140],"nice":false},"axis":{"values":[0,20,40,60,80,100,120,140],"tickCount":8,"labelOverlap":false}},
                 "y2":{"field":"hi"}}},
    {"mark":{"type":"tick","size":14,"thickness":2,"color":"black","orient":"horizontal","opacity":1},
     "encoding":{"x":{"field":"day","type":"nominal","title":"Day","scale":{"domain":["23","127"],"paddingInner":0.355,"paddingOuter":0.241},"axis":{"labelAngle":0}},
                 "xOffset":{"field":"g","type":"nominal","scale":{"domain":["NP[Empty]","tNP"],"paddingInner":0.3,"paddingOuter":0}},
                 "y":{"field":"hi","type":"quantitative","title":"Inhibitor titer (BU/ml)","scale":{"domain":[0,140],"nice":false},"axis":{"values":[0,20,40,60,80,100,120,140],"tickCount":8,"labelOverlap":false}}}},
    {"data":{"values":[{"b":"ns","o":1,"day":"23","g":"NP[Empty]","v":10},{"b":"ns","o":2,"day":"23","g":"NP[Empty]","v":14.5},{"b":"ns","o":3,"day":"23","g":"tNP","v":14.5},{"b":"ns","o":4,"day":"23","g":"tNP","v":10},{"b":"s","o":1,"day":"127","g":"NP[Empty]","v":126},{"b":"s","o":2,"day":"127","g":"NP[Empty]","v":132.4},{"b":"s","o":3,"day":"127","g":"tNP","v":132.4},{"b":"s","o":4,"day":"127","g":"tNP","v":126}]},
     "mark":{"type":"line","strokeWidth":2,"color":"black"},
     "encoding":{"x":{"field":"day","type":"nominal","title":"Day","scale":{"domain":["23","127"],"paddingInner":0.355,"paddingOuter":0.241},"axis":{"labelAngle":0}},
                 "xOffset":{"field":"g","type":"nominal","scale":{"domain":["NP[Empty]","tNP"],"paddingInner":0.3,"paddingOuter":0}},
                 "y":{"field":"v","type":"quantitative","title":"Inhibitor titer (BU/ml)","scale":{"domain":[0,140],"nice":false},"axis":{"values":[0,20,40,60,80,100,120,140],"tickCount":8,"labelOverlap":false}},
                 "detail":{"field":"b","type":"nominal"},"order":{"field":"o","type":"quantitative"}}},
    {"data":{"values":[{"day":"23","v":22.6,"txt":"ns"},{"day":"127","v":137,"txt":"**"}]},
     "mark":{"type":"text","fontSize":20,"baseline":"middle","align":"center","color":"black"},
     "encoding":{"x":{"field":"day","type":"nominal","title":"Day","scale":{"domain":["23","127"],"paddingInner":0.355,"paddingOuter":0.241},"axis":{"labelAngle":0}},
                 "y":{"field":"v","type":"quantitative","title":"Inhibitor titer (BU/ml)","scale":{"domain":[0,140],"nice":false},"axis":{"values":[0,20,40,60,80,100,120,140],"tickCount":8,"labelOverlap":false}},
                 "text":{"field":"txt"}}}
   ]}
 ],
 "spacing":80,
 "bounds":"flush",
 "resolve":{"scale":{"fill":"independent","shape":"independent","stroke":"independent"},"legend":{"fill":"independent","shape":"independent","stroke":"independent"}}}
]
}
